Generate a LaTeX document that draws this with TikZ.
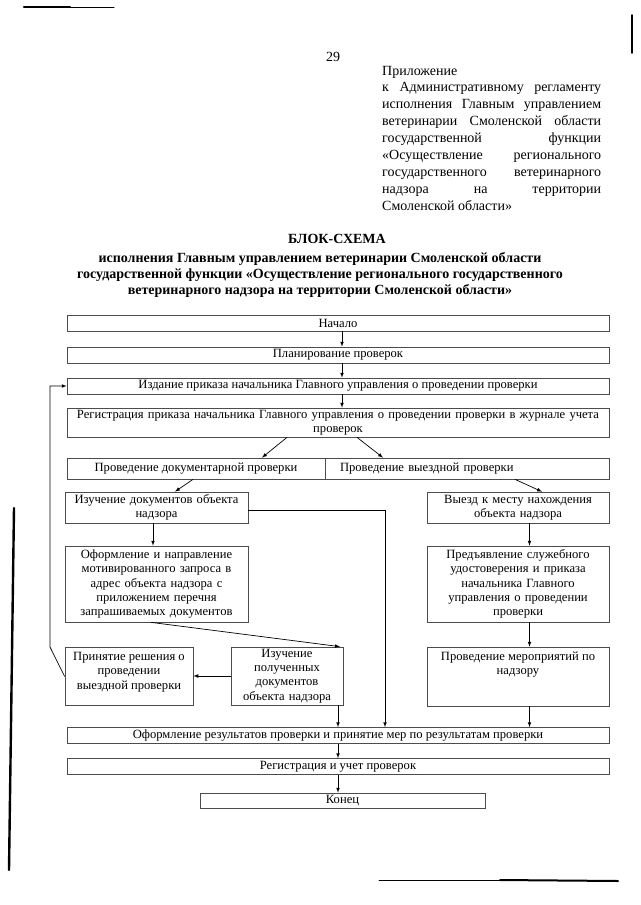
\documentclass[tikz,border=0pt]{standalone}
\usepackage{fontspec}
\setmainfont{Liberation Serif}
\usepackage{tikz}
\usetikzlibrary{positioning}
\usetikzlibrary{arrows,shapes}
\usetikzlibrary{calc}
\newcommand{\flowfont}{\fontsize{12.6}{14.3}\selectfont}
\newcommand{\headfont}{\fontsize{14}{16.9}\selectfont}
\newcommand{\titlefont}{\fontsize{14}{16}\selectfont\bfseries}
\tikzstyle{block}=[rectangle,draw=black!70,line width=0.7pt,inner sep=0pt,align=center,font=\flowfont]
\tikzstyle{wideblock}=[block,minimum width=542pt,minimum height=16pt]
\tikzstyle{link}=[draw,line width=0.7pt,->,>=latex]
\tikzstyle{plainlink}=[draw,line width=0.7pt]
\tikzstyle{scanmark}=[draw,line cap=round]

\begin{document}
\begin{tikzpicture}[x=1pt,y=-1pt]
    \useasboundingbox (0,0) rectangle (640,905);
    \fill[white] (0,0) rectangle (640,905);
    % marks left by the scanner
    \path[scanmark,line width=2.2pt] (24,7) -- (70,7);
    \path[scanmark,line width=1pt] (70,7) -- (114,7);
    \path[scanmark,line width=1.6pt] (632,15) -- (632,53);
    \path[scanmark,line width=2.4pt] (14,508) -- (9,870);
    \path[scanmark,line width=0.8pt] (379,880) -- (500,880);
    \path[scanmark,line width=2pt] (500,880) -- (618,881);

    % Page number, appendix note and title
    \node[font=\headfont] (pagenum) at (333,57) {29};
    \node[anchor=base west,inner sep=0pt,font=\headfont] (appendix) at (382,75) {\parbox[t]{219pt}{Приложение\\
        \makebox[219pt][s]{к Административному регламенту}\\
        \makebox[219pt][s]{исполнения Главным управлением}\\
        \makebox[219pt][s]{ветеринарии Смоленской области}\\
        \makebox[219pt][s]{государственной функции}\\
        \makebox[219pt][s]{«Осуществление регионального}\\
        \makebox[219pt][s]{государственного ветеринарного}\\
        \makebox[219pt][s]{надзора на территории}\\
        Смоленской области»}};
    \node[anchor=base,inner sep=0pt,font=\titlefont] (title) at (337,243) {БЛОК-СХЕМА};
    \node[anchor=north,inner sep=0pt,align=center,font=\titlefont] (subtitle) at (320,252.5) {исполнения Главным управлением ветеринарии Смоленской области\\
        государственной функции «Осуществление регионального государственного\\
        ветеринарного надзора на территории Смоленской области»};

    % First the boxes that run across the page
    \foreach \pos/\name/\txt in {{(338,323)/nachalo/Начало}, {(338,355)/plan/Планирование проверок}, {(338,386)/izdanie/Издание приказа начальника Главного управления о проведении проверки}, {(338,735.5)/oformrez/Оформление результатов проверки и принятие мер по результатам проверки}, {(338,766.5)/regucet/Регистрация и учет проверок}}
        \node[wideblock] (\name) at \pos {\txt};

    \node[block,minimum height=29pt,text width=534pt,inner xsep=4pt] (registr) at (338,422.5) {Регистрация приказа начальника Главного управления о проведении проверки в журнале учета\\ проверок};
    \node[block,minimum width=258pt,minimum height=21pt] (provdoc) at (196,468.5) {Проведение документарной проверки};
    \node[block,minimum height=21pt,text width=254pt,inner xsep=15pt,align=left] (provvyezd) at (467,468.5) {Проведение выездной проверки};

    % Then the two branches
    \node[block,minimum height=31pt,text width=179pt,inner xsep=2pt] (izuch) at (156.5,507.5) {Изучение документов объекта\\ надзора};
    \node[block,minimum height=76pt,text width=179pt,inner xsep=2pt] (oform) at (156.5,584) {Оформление и направление\\ мотивированного запроса в\\ адрес объекта надзора с\\ приложением перечня\\ запрашиваемых документов};
    \node[block,minimum width=128pt,minimum height=58pt] (prinyat) at (129,676.5) {\parbox[c][52pt][t]{124pt}{\centering\strut Принятие решения о\\ проведении\\ выездной проверки}};
    \node[block,minimum height=58pt,text width=108pt,inner xsep=2pt] (izuchpol) at (287,676) {Изучение\\ полученных\\ документов\\ объекта надзора};
    \node[block,minimum height=31pt,text width=178pt,inner xsep=2pt] (vyezd) at (518,507.5) {Выезд к месту нахождения\\ объекта надзора};
    \node[block,minimum height=76pt,text width=178pt,inner xsep=2pt] (predyav) at (518,584) {Предъявление служебного\\ удостоверения и приказа\\ начальника Главного\\ управления о проведении\\ проверки};
    \node[block,minimum width=182pt,minimum height=59pt] (meropr) at (518,676.5) {\parbox[c][53pt][t]{178pt}{\centering\strut Проведение мероприятий по\\ надзору}};
    \node[block,minimum width=285pt,minimum height=15pt] (konec) at (342.5,800.5) {Конец};
    \coordinate (loopbend) at (50,647);

    % Connect the boxes
    \foreach \source/\dest in {nachalo/plan, plan/izdanie, izdanie/registr}
        \path[link] ([xshift=4pt]\source.south) -- ([xshift=4pt]\dest.north);
    \path[link] ([xshift=-51pt]registr.south) -- ([xshift=66pt]provdoc.north);
    \path[link] ([xshift=19pt]registr.south) -- ([xshift=-84pt]provvyezd.north);
    \path[link] ([xshift=-3pt]provdoc.south) -- ([xshift=18.5pt]izuch.north);
    \path[link] ([xshift=48pt]provvyezd.south) -- ([xshift=24pt]vyezd.north);
    \path[link] ([xshift=-3.5pt]izuch.south) -- ([xshift=-3.5pt]oform.north);
    \path[link] ([yshift=-3pt]izuch.east) -| ([xshift=47pt]oformrez.north);
    \path[link] ([xshift=-5.5pt]oform.south) -- ([xshift=53pt]izuchpol.north);
    \path[link] (izuchpol.west) -- (izuchpol.west -| prinyat.east);
    \path[link] (prinyat.west) -- (loopbend) |- (izdanie.west);
    \path[link] (izuchpol.south -| oformrez.north) -- (oformrez.north);
    \foreach \source/\dest in {vyezd/predyav, predyav/meropr, meropr/oformrez}
        \path[link] ([xshift=11.5pt]\source.south) -- ([xshift=11.5pt]\source.south |- \dest.north);
    \path[link] (oformrez.south) -- (regucet.north);
    \path[link] (regucet.south) -- (regucet.south |- konec.north);
\end{tikzpicture}
\end{document}
